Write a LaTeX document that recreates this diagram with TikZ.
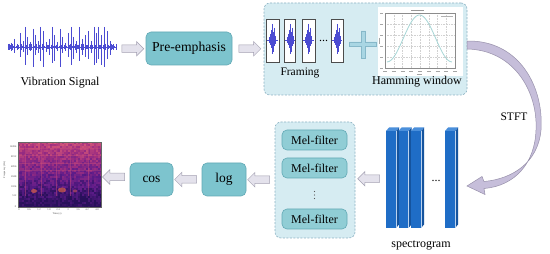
\documentclass[tikz,border=0pt]{standalone}
\usepackage{fontspec}
\setmainfont{Liberation Serif}
\usetikzlibrary{shapes.arrows,calc}
\definecolor{tealfill}{HTML}{7DC4CE}
\definecolor{tealborder}{HTML}{62A9B5}
\definecolor{dashfill}{HTML}{D6ECF2}
\definecolor{dashborder}{HTML}{8DB3C4}
\definecolor{arrowfill}{HTML}{E4E2EC}
\definecolor{arrowborder}{HTML}{A4A1B2}
\definecolor{sigblue}{HTML}{4B4BD2}
\definecolor{crossfill}{HTML}{A9D6E3}
\definecolor{crossborder}{HTML}{86B8C9}
\definecolor{barfront}{HTML}{1F6DC6}
\definecolor{barside}{HTML}{15549E}
\definecolor{bartop}{HTML}{4A8FDB}
\definecolor{stftfill}{HTML}{C6BEDA}
\definecolor{stftborder}{HTML}{9891AB}
\definecolor{hamcurve}{HTML}{A6D6D6}
\definecolor{mA}{HTML}{D85A78}
\definecolor{mB}{HTML}{A02F80}
\definecolor{mC}{HTML}{5E1C8A}
\definecolor{mD}{HTML}{28105A}
\begin{document}
\begin{tikzpicture}[x=1pt,y=-1pt,
  procbox/.style={draw=tealborder,fill=tealfill,rounded corners=5pt,line width=0.6pt,inner sep=0pt},
  melbox/.style={draw=tealborder,fill=tealfill!85!white,rounded corners=5pt,line width=0.6pt,inner sep=0pt,
     minimum width=65pt,minimum height=20pt,font=\fontsize{12}{12}\selectfont},
  dashbox/.style={draw=dashborder,dash pattern=on 2pt off 1.5pt,fill=dashfill,rounded corners=6pt,line width=0.6pt,inner sep=0pt},
  blockarrow/.style={single arrow,draw=arrowborder,fill=arrowfill,line width=0.5pt,
     minimum height=22pt,minimum width=14pt,single arrow head extend=3.5pt,inner sep=3.5pt},
  leftarrow/.style={blockarrow,shape border rotate=180},
  lbl/.style={font=\fontsize{12}{12}\selectfont,inner sep=0pt},
  framebox/.style={draw=black!70,fill=white,line width=0.6pt},
  tinytxt/.style={font=\fontsize{2.6}{2.6}\selectfont,inner sep=0pt,text=black!70}
]
\useasboundingbox (0,0) rectangle (550,254);
\fill[white] (0,0) rectangle (550,254);

% ---------------- vibration signal
\node (sig) [minimum width=108pt,minimum height=42pt,inner sep=0pt] at (62,47) {};
\pgfmathsetseed{11}
\foreach \x in {8,9.3,...,116}{
  \pgfmathsetmacro\a{1+2.5*rnd}
  \draw[sigblue,line width=0.4pt] (\x,47-\a) -- (\x,47+\a);
}
\draw[sigblue,line width=0.9pt] (sig.west) -- (sig.east);
\foreach \x/\u/\d in {11/4/4,14/8/6,17/3/3,20/14/10,23/6/5,25/20/18,27/10/8,30/5/4,33/18/20,35/12/8,38/6/6,
  40/20/14,43/16/20,46/5/5,49/8/8,52/20/16,54/12/14,57/5/4,60/18/20,62/10/6,65/4/4,68/14/10,71/20/18,
  73/10/12,76/6/6,79/20/14,82/8/8,85/12/10,88/16/12,91/6/6,94/20/18,96/14/16,98/20/12,101/12/18,
  104/20/20,107/16/12,110/6/8,113/3/3}{
  \draw[sigblue,line width=0.5pt] (\x,47-\u) -- (\x,47+\d);
}
\node[lbl] (siglbl) at (60,83) {Vibration Signal};

% ---------------- pre-emphasis
\node[procbox,minimum width=86pt,minimum height=33pt,font=\fontsize{13.7}{13.7}\selectfont] (pre) at (189,48.5) {Pre-emphasis};
\node[blockarrow] (a1) at ($(sig.east)!0.5!(pre.west)+(0,1)$) {};

% ---------------- framing + hamming box
\node[dashbox,minimum width=203pt,minimum height=92pt] (fh) at (365.5,49) {};
\node[blockarrow] (a2) at ($(pre.east)!0.5!(fh.west)$) {};

\foreach \xa/\xb [count=\k] in {266/279,284/295.5,302/315,331/343}{
  \draw[framebox] (\xa,19) rectangle (\xb,62);
  \pgfmathsetmacro\cx{(\xa+\xb)/2}
  \draw[sigblue,line width=0.6pt] (\xa+1,40) -- (\xb-1,40);
  \foreach \dx/\u/\d in {-3/3/3,-2/6/5,-1/10/8,0/16/14,1/8/12,2/12/6,3/4/4}{
    \draw[sigblue,line width=0.45pt] (\cx+\dx,40-\u) -- (\cx+\dx,40+\d);
  }
}
\node[lbl,font=\fontsize{12}{12}\selectfont] (dots1) at (323.5,41) {...};
\node[lbl,font=\fontsize{11.5}{11.5}\selectfont] (framing) at (300,73) {Framing};

% plus sign
\draw[fill=crossfill,draw=crossborder,line width=0.5pt]
  (349,42) -- (361,42) -- (361,31) -- (365.5,31) -- (365.5,42) -- (376,42) -- (376,46.5)
  -- (365.5,46.5) -- (365.5,58) -- (361,58) -- (361,46.5) -- (349,46.5) -- cycle;

% hamming window plot
\fill[white] (378,7) rectangle (463,76);
\foreach \k in {1,...,7}{
  \draw[black!18,line width=0.25pt,dash pattern=on 0.8pt off 0.8pt] (385+70*\k/8,13) -- (385+70*\k/8,68);
}
\foreach \k in {1,...,4}{
  \draw[black!18,line width=0.25pt,dash pattern=on 0.8pt off 0.8pt] (385,13+55*\k/5) -- (455,13+55*\k/5);
}
\draw[black!45,line width=0.3pt] (385,13) rectangle (455,68);
\foreach \k in {0,...,8}{ \draw[black!35,line width=0.6pt] (383+70*\k/8,71) -- (387+70*\k/8,71); }
\foreach \k in {0,...,5}{ \draw[black!35,line width=0.6pt] (380,13+55*\k/5) -- (383,13+55*\k/5); }
\draw[black!40,line width=0.6pt] (411,10) -- (424,10);
\draw[black!30,line width=0.5pt] (441,16) -- (453,16);
\draw[black!35,line width=0.5pt] (379,38) -- (379,44);
\draw[black!35,line width=0.5pt] (417,74) -- (422,74);
\draw[hamcurve,line width=0.8pt] plot[domain=0:1,samples=60] ({387+65*\x},{66-51*(0.54-0.46*cos(360*\x))});
\node[lbl] (hamlbl) at (417,82) {Hamming window};

% ---------------- STFT curved arrow
\draw[fill=stftfill,draw=stftborder,line width=0.5pt]
  (467,41) .. controls (520,40) and (544,88) .. (541,130)
  .. controls (538,163) and (512,179) .. (484,181.5)
  -- (482,176.5) -- (467,186) -- (485,194.5) -- (484,188.5)
  .. controls (515,186) and (535,163) .. (536,130)
  .. controls (538,93) and (515,50) .. (467,49) -- cycle;
\node[lbl,font=\fontsize{11.5}{11.5}\selectfont] (stft) at (514,117) {STFT};

% ---------------- spectrogram bars
\node (spec) [minimum width=71pt,minimum height=101pt,inner sep=0pt] at (421.5,177.5) {};
\foreach \x in {386,398.5,411,445}{
  \fill[barfront] (\x,131) rectangle (\x+10,228);
  \fill[barside] (\x+10,131) -- (\x+13,127.5) -- (\x+13,224.5) -- (\x+10,228) -- cycle;
  \fill[bartop] (\x,131) -- (\x+3,127.5) -- (\x+13,127.5) -- (\x+10,131) -- cycle;
  \draw[white!70!barfront,line width=0.3pt] (\x+10,131) -- (\x+10,228);
}
\node[lbl] (dots2) at (436,181) {...};
\node[lbl] (speclbl) at (421,245) {spectrogram};

% ---------------- mel filter bank
\node[dashbox,minimum width=80pt,minimum height=116pt] (mel) at (315,180) {};
\node[melbox] (m1) at (314.5,140) {Mel-filter};
\node[melbox] (m2) at (314.5,168) {Mel-filter};
\coordinate (mdots) at (314.5,195);
\foreach \dy in {-3.5,0,3.5}{ \fill[black!65] ($(mdots)+(0,\dy)$) circle (0.55pt); }
\node[melbox] (m4) at (314.5,219) {Mel-filter};
\node[leftarrow] (a3) at ($(spec.west)!0.5!(mel.east)$) {};

% ---------------- log, cos
\node[procbox,minimum width=44pt,minimum height=33pt,font=\fontsize{13.5}{13.5}\selectfont] (log) at (224,179.5) {log};
\node[procbox,minimum width=43pt,minimum height=33pt,font=\fontsize{13.5}{13.5}\selectfont] (cos) at (151.5,179.5) {cos};
\node[leftarrow] (a4) at ($(mel.west)!0.5!(log.east)$) {};
\node[leftarrow] (a5) at ($(log.west)!0.5!(cos.east)$) {};

% ---------------- MFCC image
\node (mfcc) [minimum width=83pt,minimum height=65pt,inner sep=0pt] at (59.5,174.5) {};
\node[leftarrow] (a6) at ($(cos.west)!0.5!(mfcc.east)$) {};
\begin{scope}
\clip (18,142) rectangle (101,207);
\pgfmathsetseed{5}
\foreach \i in {0,...,41}{
  \foreach \j in {0,...,32}{
    \pgfmathsetmacro\t{max(0,min(2.999,0.45+2.6*(\j/32)+0.9*(rnd-0.5)))}
    \pgfmathtruncatemacro\seg{floor(\t)}
    \pgfmathtruncatemacro\p{100-100*(\t-\seg)}
    \ifcase\seg \def\cA{mA}\def\cB{mB}\or \def\cA{mB}\def\cB{mC}\or \def\cA{mC}\def\cB{mD}\fi
    \fill[\cA!\p!\cB] (18+2*\i,142+2*\j) rectangle ++(2.1,2.1);
  }
}
\foreach \x in {25,41,56,70,88}{ \fill[mA!60!mB,opacity=0.5] (\x,146) rectangle ++(0.8,50); }
\foreach \y in {148,155,163,170}{ \fill[mA,opacity=0.3] (18,\y) rectangle (101,\y+0.8); }
\fill[orange!50!mA,opacity=0.6] (34,191) ellipse (3 and 2);
\fill[orange!50!mA,opacity=0.6] (62,190) ellipse (4 and 2.5);
\fill[orange!30!mA,opacity=0.5] (75,191) ellipse (2 and 1.5);
\fill[mD] (18,142) rectangle (101,143.3);
\end{scope}
\draw[black!60,line width=0.3pt] (18,142) rectangle (101,207);
\foreach \x/\t in {19/0,29/0.6,39/1.2,49/1.8,58/2.4,68/3,78/3.6,87/4.2,97/4.8}{
  \node[tinytxt] at (\x,210) {\t};
}
\node[tinytxt] (tlbl) at (57,214) {Time (s)};
\foreach \y/\t in {147/16384,157/8192,167/4096,177/2048,187/1024,196/512,207/0}{
  \node[tinytxt,anchor=east] at (16.5,\y) {\t};
}
\node[tinytxt,rotate=90] (hz) at (4.5,170) {Frequency (Hz)};
\end{tikzpicture}
\end{document}
